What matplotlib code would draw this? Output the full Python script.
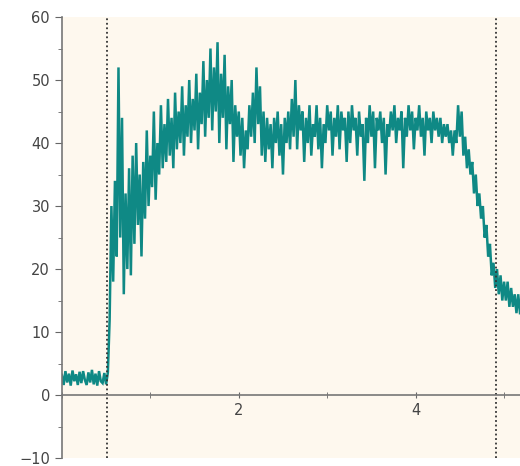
import numpy as np
import matplotlib.pyplot as plt
from matplotlib.ticker import MultipleLocator

# intervalo de amostragem (s)
PASSO = 0.02

# sinal antes do evento (linha de base)
base = [3.2, 1.6, 3.8, 2.0, 3.4, 1.5, 3.9, 2.2, 3.3, 1.6, 3.7, 1.9, 3.8, 2.4,
        1.6, 3.6, 2.0, 4.0, 1.7, 3.4, 1.5, 3.8, 2.2, 1.9, 3.5, 1.7, 3.6]
# subida inicial
subida = [12, 30, 18, 34, 22, 52, 25, 44, 16, 32, 20, 36, 19, 38, 24, 40, 27,
          35, 22, 37, 28, 42, 30, 38, 33, 45, 31, 40, 35, 46, 36, 43, 37, 47,
          38, 44, 36, 48, 39, 45, 40, 49, 38, 46, 41, 50, 40, 47, 42, 51, 39,
          48, 43, 53, 41, 50, 44, 55, 42, 52, 45, 56, 40, 51, 44, 54, 39, 49,
          43, 50, 37, 46, 41, 45, 38, 44, 36, 42, 39, 46, 41, 48, 40, 52, 43,
          49, 38, 45, 37, 44, 39, 43, 36, 44, 40, 45, 38, 43, 35, 44, 40, 45,
          39, 47, 41, 50, 39, 46, 42, 45, 37, 44, 40, 46, 38, 43, 41, 46, 39,
          44, 36, 43, 40]
# patamar
patamar = [46, 42, 45, 38, 44, 41, 46, 39, 45, 42, 44, 37, 45, 40, 46, 42, 44,
           38, 45, 41, 43, 34, 44, 40, 46, 41, 45, 36, 44, 42, 45, 40, 44, 35,
           43, 41, 45, 42, 46, 40, 44, 42, 45, 36, 44, 41, 46, 42, 45, 39, 44,
           42, 46, 41, 44, 38, 45, 42, 44, 40, 45, 42, 44, 41, 44, 40, 43, 41,
           43, 40, 42, 38, 42, 40, 46, 41, 45, 38]
# descida final
descida = [41, 36, 39, 35, 37, 32, 35, 30, 32, 28, 30, 25, 27, 22, 24, 19, 21,
           17, 20, 16, 19, 15, 18, 15, 18, 14, 17, 14, 16, 13, 16, 13]

# linhas verticais (início e fim do evento)
marcas = [0.51, 4.91]

y = np.array(base + subida + patamar + descida, dtype=float)
t = np.arange(len(y)) * PASSO

fig = plt.figure(figsize=(5.2, 4.66), dpi=100)
ax = fig.add_axes([0.119, 0.017, 0.881, 0.9465])
ax.set_facecolor("#fef8ee")

ax.plot(t, y, color="#0f8985", lw=1.8, solid_joinstyle="miter")
for m in marcas:
    ax.axvline(m, color="#333333", ls=(0, (1, 1.5)), lw=1.3)

ax.set_xlim(0, 5.18)
ax.set_ylim(-10, 60)

# eixo x na posição zero
ax.spines["bottom"].set_position(("data", 0))
ax.spines["top"].set_visible(False)
ax.spines["right"].set_visible(False)
for s in ("left", "bottom"):
    ax.spines[s].set_color("#777777")
    ax.spines[s].set_linewidth(1.2)

ax.xaxis.set_major_locator(MultipleLocator(2))
ax.xaxis.set_minor_locator(MultipleLocator(1))
ax.yaxis.set_major_locator(MultipleLocator(10))
ax.yaxis.set_minor_locator(MultipleLocator(5))
ax.set_xticks([2, 4])
ax.tick_params(axis="both", which="both", color="#666666", labelcolor="#444444",
               labelsize=10.5)
ax.tick_params(axis="x", which="both", direction="inout", length=5)
ax.tick_params(axis="y", which="major", length=5)
ax.tick_params(axis="y", which="minor", length=3)

fig.savefig("out.png", dpi=100)
